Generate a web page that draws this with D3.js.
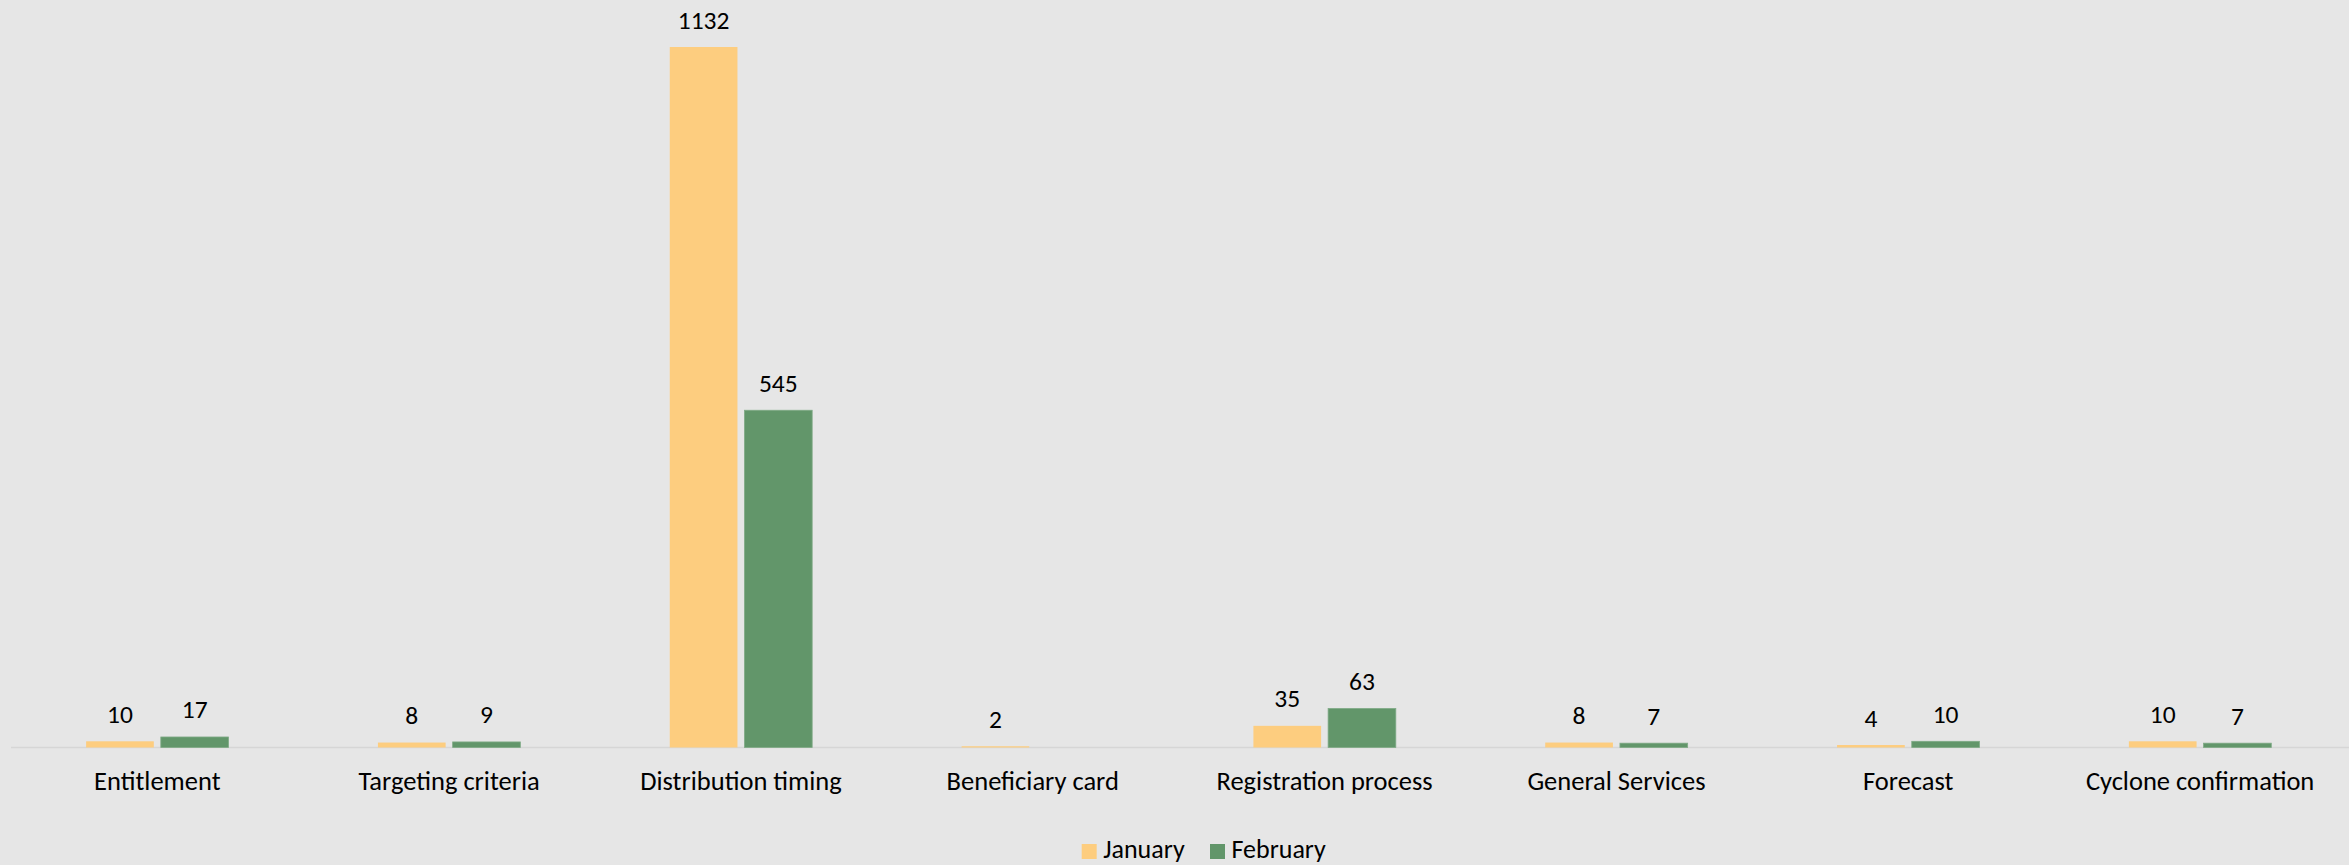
<!DOCTYPE html>
<html>
<head>
<meta charset="utf-8">
<script src="https://cdn.jsdelivr.net/npm/d3@7"></script>
<style>
  html, body { margin: 0; padding: 0; background: #E6E6E6; }
  svg { display: block; }
  text { font-family: Calibri, Carlito, Lato, "Open Sans", sans-serif; fill: #000; }
</style>
</head>
<body>
<svg id="chart" width="2349" height="865"></svg>
<script>
const categories = ["Entitlement", "Targeting criteria", "Distribution timing", "Beneficiary card",
  "Registration process", "General Services", "Forecast", "Cyclone confirmation"];
const series = ["January", "February"];
const january = [10, 8, 1132, 2, 35, 8, 4, 10];
const february = [17, 9, 545, null, 63, 7, 10, 7];
const colors = ["#FDCD7F", "#62966A"];

const W = 2349, H = 865;
const svg = d3.select("#chart");
svg.append("rect").attr("width", W).attr("height", H).attr("fill", "#E6E6E6");

const values = [january, february];
const x0 = d3.scaleBand().domain(categories).range([11.4, 2346]).paddingInner(0).paddingOuter(0);
const x1 = d3.scaleBand().domain(series).range([0, x0.bandwidth()]).paddingInner(0.094).paddingOuter(1.0);
const maxV = d3.max(values.flat().filter(v => v != null));
const y = d3.scaleLinear().domain([0, maxV]).range([747.5, 47]);

// axis line
svg.append("line").attr("x1", 11).attr("x2", W).attr("y1", 747.5).attr("y2", 747.5)
  .attr("stroke", "#D6D6D6").attr("stroke-width", 1.5);

const rows = categories.map((c, i) => ({ c, vals: series.map((s, j) => ({ s, j, v: values[j][i] })) }));

const g = svg.selectAll("g.cat").data(rows).join("g").attr("class", "cat")
  .attr("transform", d => `translate(${x0(d.c)},0)`);

g.selectAll("rect").data(d => d.vals.filter(e => e.v != null)).join("rect")
  .attr("x", e => x1(e.s))
  .attr("width", x1.bandwidth())
  .attr("y", e => y(e.v))
  .attr("height", e => y(0) - y(e.v))
  .attr("fill", e => colors[e.j])
  .attr("stroke", e => e.j === 1 ? "#7FAA86" : "none")
  .attr("stroke-width", 0.8);

g.selectAll("text.val").data(d => d.vals.filter(e => e.v != null)).join("text").attr("class", "val")
  .attr("x", e => x1(e.s) + x1.bandwidth() / 2)
  .attr("y", e => y(e.v) - 18.5)
  .attr("text-anchor", "middle")
  .attr("font-size", 25.5)
  .text(e => e.v);

// category labels
svg.append("g").selectAll("text").data(categories).join("text")
  .attr("x", c => x0(c) + x0.bandwidth() / 2)
  .attr("y", 789.5)
  .attr("text-anchor", "middle")
  .attr("font-size", 26.5)
  .text(c => c);

// legend
const legend = svg.append("g");
const legItems = [{ s: "January", x: 1081.7 }, { s: "February", x: 1210 }];
legItems.forEach((it, i) => {
  legend.append("rect").attr("x", it.x).attr("y", 844).attr("width", 15).attr("height", 15).attr("fill", colors[i]);
  legend.append("text").attr("x", it.x + 21.5).attr("y", 858).attr("font-size", 26).text(series[i]);
});
</script>
</body>
</html>
